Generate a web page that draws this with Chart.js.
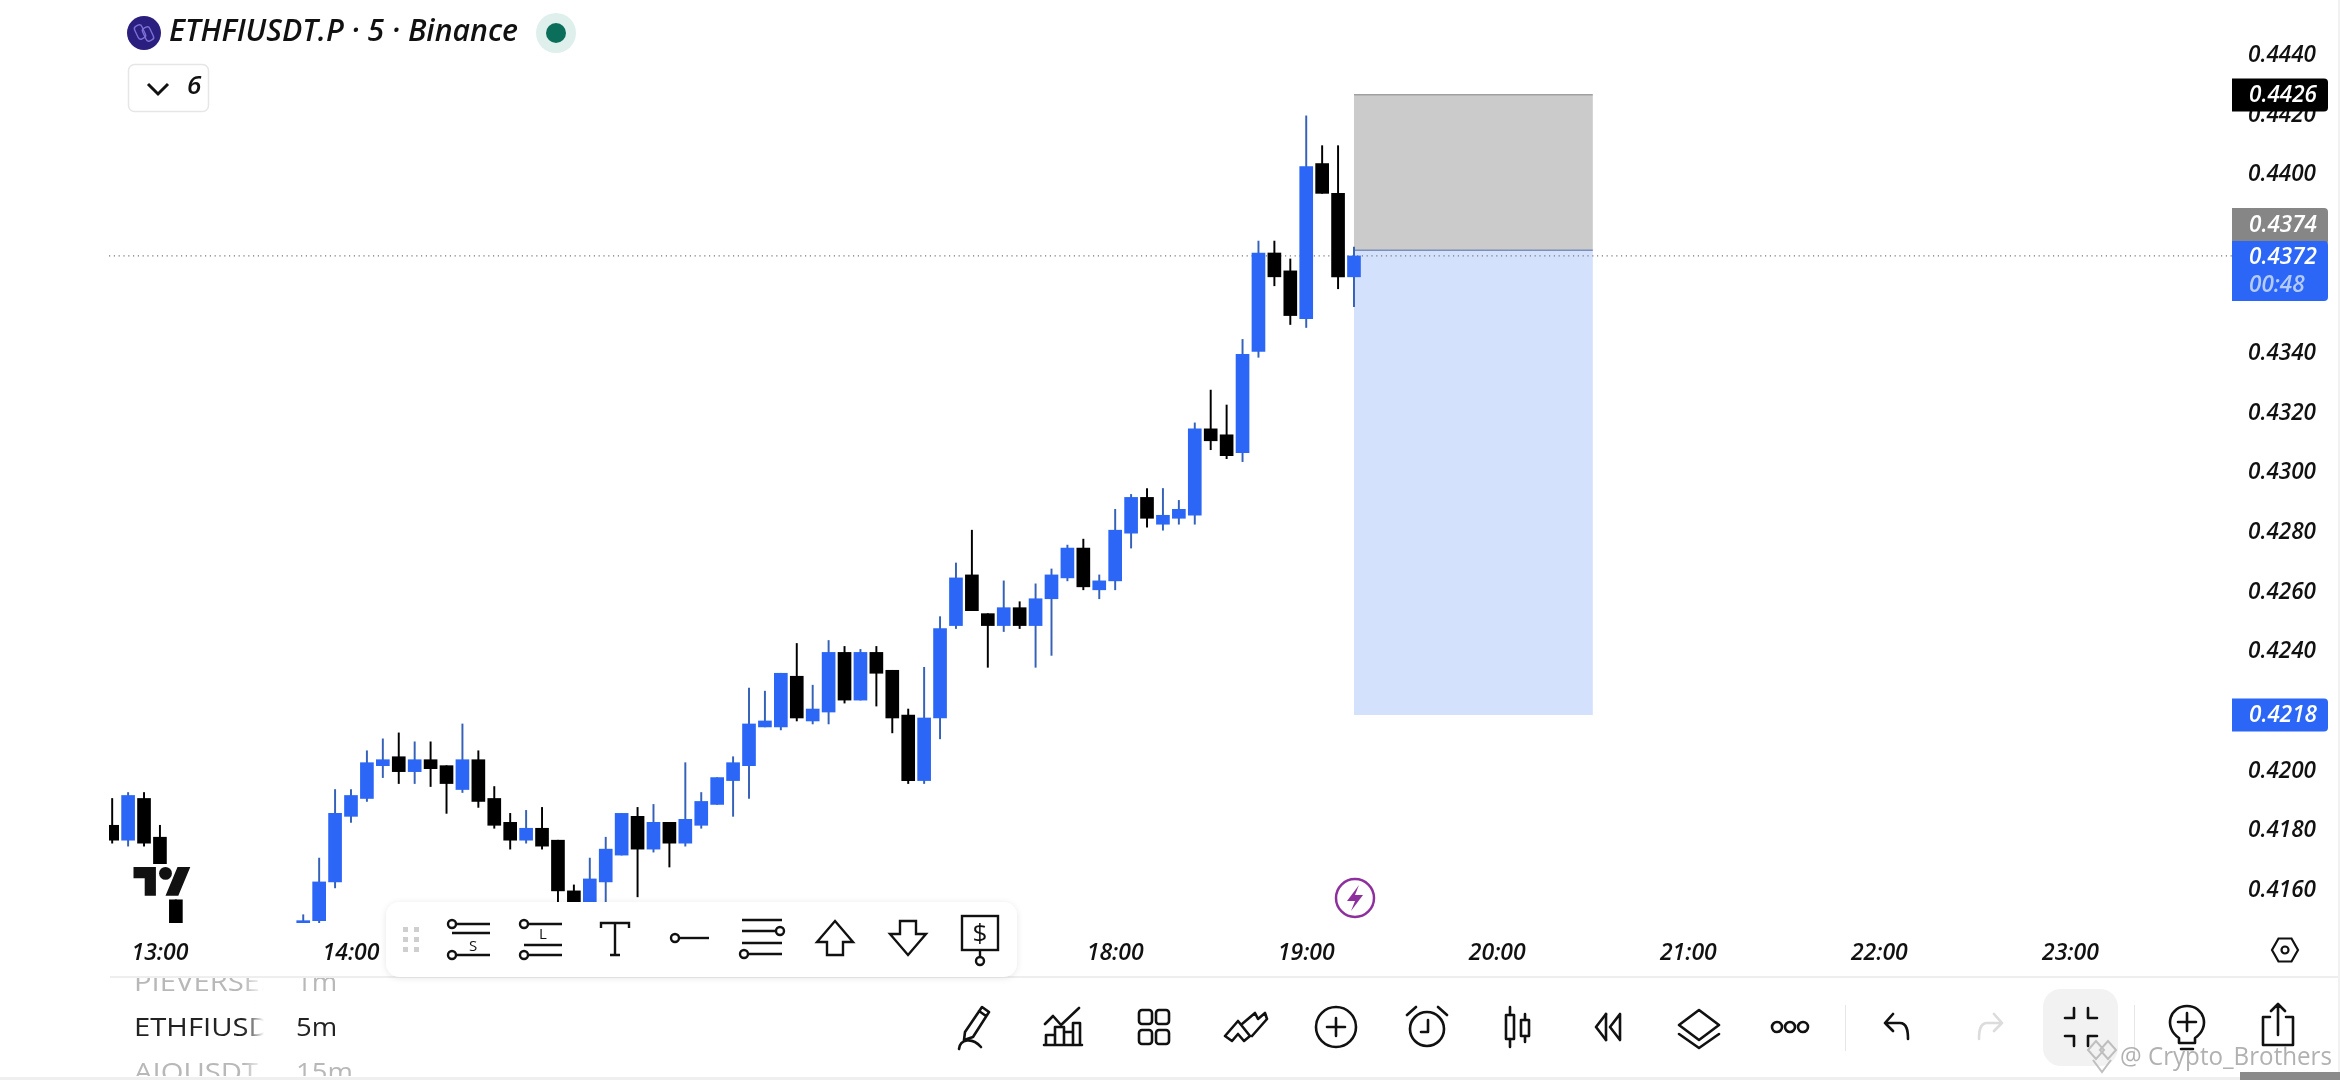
<!DOCTYPE html>
<html>
<head>
<meta charset="utf-8">
<style>
html,body{margin:0;padding:0;background:#fff;width:2340px;height:1080px;overflow:hidden}
#wrap{position:relative;width:2340px;height:1080px}
canvas{position:absolute;left:0;top:0}
svg{position:absolute;left:0;top:0}
svg text{font-family:"Open Sans",sans-serif}
</style>
<script src="https://cdn.jsdelivr.net/npm/chart.js@4"></script>
</head>
<body>
<div id="wrap">
<canvas id="c" width="2340" height="1080"></canvas>
<svg id="ui" width="2340" height="1080" viewBox="0 0 2340 1080" xmlns="http://www.w3.org/2000/svg">
<defs>
<linearGradient id="fadeR" x1="0" x2="1" y1="0" y2="0"><stop offset="0" stop-color="#fff" stop-opacity="0"/><stop offset="1" stop-color="#fff"/></linearGradient>
<filter id="sh" x="-5%" y="-20%" width="110%" height="140%"><feDropShadow dx="0" dy="1" stdDeviation="3" flood-color="#000" flood-opacity="0.10"/></filter>
<clipPath id="listClip"><rect x="110" y="978" width="300" height="98"/></clipPath>
<clipPath id="nameClip"><rect x="110" y="978" width="154" height="98"/></clipPath>
</defs>

<!-- header -->
<circle cx="144" cy="33" r="17" fill="#2a1f7e"/>
<g fill="none" stroke="#7d6fd6" stroke-width="1.4"><rect x="136" y="25" width="8" height="14" rx="3" transform="rotate(-25 140 32)"/><rect x="144" y="27" width="8" height="14" rx="3" transform="rotate(-25 148 34)"/></g>
<text x="169" y="41" font-size="30" font-style="italic" font-weight="600" fill="#111" textLength="349" lengthAdjust="spacingAndGlyphs">ETHFIUSDT.P · 5 · Binance</text>
<circle cx="556" cy="33" r="20" fill="#dff0ec"/>
<circle cx="556" cy="33" r="10" fill="#0b6e5b"/>
<rect x="128.5" y="64.5" width="80" height="47" rx="6" fill="#fff" stroke="#e6e6e6" stroke-width="1.5"/>
<path d="M148 84 L158 94 L168 84" fill="none" stroke="#111" stroke-width="3"/>
<text x="187" y="94" font-size="26" font-style="italic" font-weight="600" fill="#111">6</text>

<!-- TradingView mark -->
<rect x="128" y="864" width="68" height="34" fill="#fff"/>
<g transform="translate(133.5 860.6) scale(1.6)" fill="#111"><path d="M14 22H7V11H0V4h14v18zM28 22h-8l7.5-18h8L28 22z"/><circle cx="20" cy="8" r="4"/></g>

<!-- lightning marker -->
<circle cx="1355" cy="898" r="19" fill="#fff" stroke="#8e2f9e" stroke-width="2.5"/>
<path d="M1359 885 L1347 901 H1355 L1351 911 L1363 895 H1355 Z" fill="#8e2f9e"/>

<!-- hexagon axis settings -->
<g transform="translate(2285 950)" fill="none" stroke="#111" stroke-width="2.2"><path d="M-13 0 L-6.5 -11.5 H6.5 L13 0 L6.5 11.5 H-6.5 Z"/><circle r="3.5"/></g>

<!-- separators -->
<rect x="110" y="976" width="2230" height="2" fill="#eeeeee"/>
<rect x="0" y="1077" width="2340" height="3" fill="#efefef"/>
<rect x="2338" y="0" width="2" height="1080" fill="#f1f1f1"/>

<!-- floating toolbar -->
<rect x="386" y="902" width="631" height="75" rx="14" fill="#fff" filter="url(#sh)"/>
<g fill="#cfcfcf">
<rect x="403" y="927" width="5" height="5"/><rect x="414" y="927" width="5" height="5"/>
<rect x="403" y="937" width="5" height="5"/><rect x="414" y="937" width="5" height="5"/>
<rect x="403" y="947" width="5" height="5"/><rect x="414" y="947" width="5" height="5"/>
</g>
<g fill="none" stroke="#111" stroke-width="2.4">
<g transform="translate(470 938)"><circle cx="-18" cy="-14" r="4"/><path d="M-14 -14H20M-18 -5H20M-14 17H20"/><circle cx="-18" cy="17" r="4"/></g>
<g transform="translate(542 938)"><circle cx="-18" cy="-14" r="4"/><path d="M-14 -14H20M-18 7H20M-14 17H20"/><circle cx="-18" cy="17" r="4"/></g>
<g transform="translate(615 938)"><path d="M-14 -10V-15H14V-10M0 -15V17M-5 17H5"/></g>
<g transform="translate(689 938)"><circle cx="-14" cy="0" r="4"/><path d="M-10 0H20"/></g>
<g transform="translate(762 938)"><path d="M-20 -18H20M-20 -7H14M-20 5H20M-14 16H20"/><circle cx="18" cy="-7" r="4"/><circle cx="-18" cy="16" r="4"/></g>
<g transform="translate(835 938)"><path d="M0 -17L18 4H8V17H-8V4H-18Z"/></g>
<g transform="translate(908 938)"><path d="M0 17L18 -4H8V-17H-8V-4H-18Z"/></g>
<g transform="translate(980 938)"><rect x="-18" y="-22" width="36" height="34"/><path d="M0 12V19"/><circle cx="0" cy="23" r="4"/></g>
</g>
<text x="473" y="951" font-size="15" text-anchor="middle" fill="#111">S</text>
<text x="543" y="939" font-size="15" text-anchor="middle" fill="#111">L</text>
<text x="980" y="3" font-size="26" text-anchor="middle" fill="#111" transform="translate(0 939)">$</text>

<!-- symbol list -->
<g font-size="25">
<g clip-path="url(#nameClip)">
<text transform="translate(134 991) scale(1.17 1)" fill="#b8b8b8">PIEVERSE.P</text>
<text transform="translate(134 1036) scale(1.17 1)" fill="#222">ETHFIUSDT.P</text>
<text transform="translate(134 1081) scale(1.17 1)" fill="#b8b8b8">AIOUSDT.P</text>
</g>
<rect x="244" y="978" width="20" height="98" fill="url(#fadeR)"/>
<g clip-path="url(#listClip)">
<text transform="translate(296 991) scale(1.1 1)" fill="#b8b8b8">1m</text>
<text transform="translate(296 1036) scale(1.1 1)" fill="#222">5m</text>
<text transform="translate(296 1081) scale(1.1 1)" fill="#b8b8b8">15m</text>
</g>
</g>

<!-- bottom icons -->
<rect x="2043" y="989" width="75" height="77" rx="18" fill="#f2f2f2"/>
<rect x="1845" y="1005" width="1" height="46" fill="#e6e6e6"/>
<rect x="2134" y="1005" width="1" height="46" fill="#e6e6e6"/>
<g fill="none" stroke="#111" stroke-width="2.6" stroke-linejoin="round" stroke-linecap="round">
<g transform="translate(974 1027)"><path d="M-9 5 L8 -20 L15 -15 L-1 10 L-10 13 Z M5 -16 L12 -11"/><path d="M-15 22 C-14 12 -2 10 7 20"/></g>
<g transform="translate(1063 1027)"><path d="M-18 -3 L-10 -11 L-2 -2 L16 -19"/><path d="M-17 18V8H-8V18M-8 18V0H1V18M1 18V5H10V18M10 18V-4H17V18M-19 18H19"/></g>
<g transform="translate(1154 1027)"><rect x="-15" y="-17" width="13" height="14" rx="3"/><rect x="2" y="-17" width="13" height="14" rx="3"/><rect x="-15" y="3" width="13" height="14" rx="3"/><rect x="2" y="3" width="13" height="14" rx="3"/></g>
<g transform="translate(1245 1027)"><path d="M-20 9 L-7 -6 L5 9 L-1 14 L-7 7 L-13 14 Z M-3 -3 L10 -14 L13 -8 L20 -14 L22 -8 L7 9"/></g>
<g transform="translate(1336 1027)"><circle r="20"/><path d="M-9 0H9M0 -9V9"/></g>
<g transform="translate(1427 1027)"><circle cy="2" r="17"/><path d="M1 -7V5H-6M-20 -12L-11 -20M20 -12L11 -20"/></g>
<g transform="translate(1517 1027)"><rect x="-11" y="-12" width="8" height="24"/><path d="M-7 -20V-12M-7 12V20"/><rect x="4" y="-7" width="8" height="16"/><path d="M8 -13V-7M8 9V15"/></g>
<g transform="translate(1608 1027)"><path d="M-2 -13 L-12 0 L-2 13 M12 -13 L2 0 L12 13 V-13"/><path d="M-2 -13 V13"/></g>
<g transform="translate(1699 1027)"><path d="M0 -17 L20 -2 L0 13 L-20 -2 Z M-20 7 L0 21 L20 7"/></g>
<g transform="translate(1790 1027)"><circle cx="-13" r="5"/><circle cx="0" r="5"/><circle cx="13" r="5"/></g>
<g transform="translate(1897 1027)"><path d="M-4 -13 L-12 -4 L-4 4 M-12 -4 H3 C10 -4 11 4 11 12"/></g>
<g transform="translate(1990 1027)" stroke="#dcdcdc"><path d="M4 -13 L12 -4 L4 4 M12 -4 H-3 C-10 -4 -11 4 -11 12"/></g>
<g transform="translate(2081 1027)"><path d="M-7 -19 V-9 H-16 M7 -19 V-9 H16 M-7 19 V9 H-16 M7 19 V9 H16"/></g>
<g transform="translate(2187 1027)"><path d="M-8 11 C-24 0 -17 -21 0 -21 C17 -21 24 0 8 11 V16 H-8 Z M-6 22 H6 M-9 -5 H9 M0 -14 V4"/></g>
<g transform="translate(2278 1027)"><path d="M-8 -10 H-15 V18 H15 V-10 H8 M0 8 V-23 M-7 -16 L0 -23 L7 -16"/></g>
</g>

<!-- watermark -->
<g fill="none" stroke="#b5b5b5" stroke-width="2" opacity="0.85"><path d="M2100 1050 L2108 1041 L2116 1050 L2108 1059 Z M2088 1050 L2096 1041 L2104 1050 L2096 1059 Z M2093 1060 L2102 1072 L2111 1060"/></g>
<text x="2120" y="1065" font-size="26" fill="#a9a9a9" opacity="0.9" textLength="212" lengthAdjust="spacingAndGlyphs">@ Crypto_Brothers</text>
<rect x="2240" y="1072" width="100" height="8" fill="#8a8a8a"/>
</svg>
</div>
<script>
// ---- data ----
const times = ['12:45','12:50','12:55','13:00','13:05','13:45','13:50','13:55','14:00','14:05','14:10','14:15','14:20','14:25','14:30','14:35','14:40','14:45','14:50','14:55','15:00','15:05','15:10','15:15','15:20','15:25','15:30','15:35','15:40','15:45','15:50','15:55','16:00','16:05','16:10','16:15','16:20','16:25','16:30','16:35','16:40','16:45','16:50','16:55','17:00','17:05','17:10','17:15','17:20','17:25','17:30','17:35','17:40','17:45','17:50','17:55','18:00','18:05','18:10','18:15','18:20','18:25','18:30','18:35','18:40','18:45','18:50','18:55','19:00','19:05','19:10','19:15'];
const opens = [.4181,.4176,.4190,.4177,.4156,.4148,.4149,.4162,.4184,.4190,.4201,.4204,.4199,.4203,.4201,.4193,.4203,.4190,.4182,.4176,.4180,.4176,.4159,.4154,.4162,.4171,.4184,.4173,.4182,.4175,.4181,.4188,.4196,.4201,.4214,.4214,.4231,.4216,.4219,.4239,.4223,.4239,.4233,.4218,.4196,.4217,.4248,.4265,.4252,.4248,.4254,.4248,.4257,.4264,.4274,.4260,.4263,.4279,.4291,.4282,.4284,.4285,.4314,.4312,.4306,.4340,.4373,.4367,.4351,.4403,.4393,.4365];
const highs = [.4190,.4192,.4192,.4181,.4156,.4151,.4170,.4193,.4193,.4206,.4210,.4212,.4209,.4209,.4201,.4215,.4206,.4194,.4185,.4186,.4187,.4176,.4161,.4170,.4177,.4185,.4187,.4188,.4182,.4202,.4192,.4197,.4204,.4227,.4226,.4232,.4242,.4228,.4243,.4241,.4240,.4241,.4233,.4220,.4234,.4251,.4269,.4280,.4252,.4263,.4256,.4262,.4267,.4275,.4277,.4265,.4287,.4292,.4294,.4294,.4290,.4316,.4327,.4322,.4344,.4377,.4377,.4371,.4419,.4409,.4409,.4375];
const lows = [.4175,.4174,.4174,.4167,.4140,.4148,.4148,.4160,.4182,.4189,.4197,.4195,.4195,.4194,.4185,.4192,.4187,.4180,.4173,.4175,.4173,.4150,.4154,.4153,.4152,.4171,.4157,.4172,.4167,.4174,.4180,.4188,.4184,.4190,.4214,.4213,.4216,.4215,.4215,.4222,.4223,.4221,.4212,.4195,.4195,.4210,.4247,.4253,.4234,.4246,.4247,.4234,.4238,.4263,.4260,.4257,.4260,.4274,.4281,.4280,.4282,.4282,.4307,.4304,.4303,.4338,.4362,.4349,.4348,.4393,.4361,.4355];
const closes = [.4176,.4191,.4175,.4168,.4140,.4149,.4162,.4185,.4191,.4202,.4203,.4199,.4203,.4200,.4195,.4203,.4189,.4181,.4176,.4180,.4174,.4159,.4155,.4163,.4173,.4185,.4173,.4182,.4175,.4183,.4189,.4197,.4202,.4215,.4216,.4232,.4217,.4220,.4239,.4223,.4239,.4232,.4217,.4196,.4217,.4247,.4264,.4253,.4248,.4254,.4248,.4257,.4265,.4274,.4261,.4263,.4280,.4291,.4284,.4285,.4287,.4314,.4310,.4305,.4339,.4373,.4365,.4352,.4402,.4393,.4365,.4372];
const priceTicks = [.4160,.4180,.4200,.4220,.4240,.4260,.4280,.4300,.4320,.4340,.4360,.4380,.4400,.4420,.4440];
const timeTicks = ['13:00','14:00','15:00','16:00','17:00','18:00','19:00','20:00','21:00','22:00','23:00'];
const lastPrice = 0.4372, lastCountdown = '00:48';
const stopPrice = 0.4426, entryPrice = 0.4374, targetPrice = 0.4218;
const boxFrom = '19:15', boxTo = '20:30';
const viewFrom = 764, viewTo = 1430.75, priceMin = 0.414822, priceMax = 0.445787;

// ---- colours ----
const UP = '#2b66f6', DOWN = '#000000', UP_WICK = '#3661b8', DOWN_WICK = '#000000';
const FONT = 'italic 600 22.5px "Open Sans"';
const mins = s => { const [h, m] = s.split(':').map(Number); return h * 60 + m; };
const isUp = i => closes[i] >= opens[i];

const wicks = times.map((t, i) => ({ x: mins(t), y: [lows[i], highs[i]] }));
const bodies = times.map((t, i) => ({ x: mins(t), y: [opens[i], closes[i]] }));

function roundRect(ctx, x, y, w, h, r, fill) {
  ctx.beginPath(); ctx.roundRect(x, y, w, h, r); ctx.fillStyle = fill; ctx.fill();
}

const riskBoxes = {
  id: 'riskBoxes',
  beforeDatasetsDraw(chart) {
    const { ctx, scales: { x, y } } = chart;
    const l = x.getPixelForValue(mins(boxFrom)), r = x.getPixelForValue(mins(boxTo));
    const t = y.getPixelForValue(stopPrice), m = y.getPixelForValue(entryPrice), b = y.getPixelForValue(targetPrice);
    ctx.save();
    ctx.fillStyle = '#cbcbcb'; ctx.fillRect(l, t, r - l, m - t);
    ctx.fillStyle = '#d3e1fc'; ctx.fillRect(l, m, r - l, b - m);
    ctx.fillStyle = '#a0a0a0'; ctx.fillRect(l, t - 1, r - l, 1.5);
    ctx.fillStyle = '#7d8fb8'; ctx.fillRect(l, m - 0.5, r - l, 1.5);
    ctx.restore();
  }
};

const priceTags = {
  id: 'priceTags',
  afterDraw(chart) {
    const { ctx, scales: { y } } = chart;
    const X = 2232, W = 96, H = 33, TX = 2249;
    const py = v => y.getPixelForValue(v);
    const lastTop = py(lastPrice) - 15;
    const R = [0, 4, 4, 0];
    ctx.save();
    ctx.textBaseline = 'middle'; ctx.textAlign = 'left'; ctx.font = FONT;
    // stop
    roundRect(ctx, X, py(stopPrice) - H / 2, W, H, R, '#000');
    ctx.fillStyle = '#fff'; ctx.fillText(stopPrice.toFixed(4), TX, py(stopPrice) + 1);
    // entry, pushed up against the last price tag
    roundRect(ctx, X, lastTop - H, W, H + 4, R, '#868686');
    ctx.fillStyle = '#fff'; ctx.fillText(entryPrice.toFixed(4), TX, lastTop - H / 2 + 1);
    // last price with countdown
    roundRect(ctx, X, lastTop, W, 60, R, UP);
    ctx.fillStyle = '#fff'; ctx.fillText(lastPrice.toFixed(4), TX, lastTop + 17);
    ctx.fillStyle = '#b4cbf8'; ctx.fillText(lastCountdown, TX, lastTop + 45);
    // target
    roundRect(ctx, X, py(targetPrice) - H / 2, W, H, R, UP);
    ctx.fillStyle = '#fff'; ctx.fillText(targetPrice.toFixed(4), TX, py(targetPrice) + 1);
    ctx.restore();
  }
};

const noPad = s => { s.paddingLeft = 0; s.paddingRight = 0; s.paddingTop = 0; s.paddingBottom = 0; };

new Chart(document.getElementById('c'), {
  type: 'bar',
  data: {
    datasets: [
      { type: 'line', label: 'last', data: [{ x: viewFrom, y: lastPrice }, { x: viewTo, y: lastPrice }],
        borderColor: '#7a7a7a', borderWidth: 1.2, borderDash: [1.2, 3.6], pointRadius: 0, order: 3 },
      { label: 'wick', data: wicks, grouped: false, barThickness: 1.3,
        backgroundColor: times.map((_, i) => isUp(i) ? UP_WICK : DOWN_WICK), borderWidth: 0, order: 2 },
      { label: 'body', data: bodies, grouped: false, barThickness: 13,
        backgroundColor: times.map((_, i) => isUp(i) ? UP : DOWN), borderWidth: 0, order: 1 }
    ]
  },
  options: {
    responsive: false, animation: false, devicePixelRatio: 1,
    layout: { padding: { left: 109, right: 0, top: 0, bottom: 0 } },
    plugins: { legend: { display: false }, title: { display: false }, tooltip: { enabled: false } },
    parsing: { xAxisKey: 'x', yAxisKey: 'y' },
    scales: {
      x: {
        type: 'linear', offset: false, min: viewFrom, max: viewTo,
        grid: { display: false }, border: { display: false },
        afterBuildTicks(s) { s.ticks = timeTicks.map(t => ({ value: mins(t), label: t })); },
        afterFit(s) { s.height = 157; noPad(s); },
        ticks: {
          autoSkip: false, maxRotation: 0, minRotation: 0, padding: 9, color: '#111',
          font: { family: '"Open Sans"', size: 23, style: 'italic', weight: '600' },
          callback: (v) => timeTicks.find(t => mins(t) === v) || ''
        }
      },
      y: {
        type: 'linear', position: 'right', min: priceMin, max: priceMax,
        grid: { display: false }, border: { display: false },
        afterBuildTicks(s) { s.ticks = priceTicks.map(v => ({ value: v })); },
        afterFit(s) { s.width = 108; noPad(s); },
        ticks: {
          autoSkip: false, padding: 8, labelOffset: 2.5, color: '#111',
          font: { family: '"Open Sans"', size: 22.5, style: 'italic', weight: '600' },
          callback: (v) => Number(v).toFixed(4)
        }
      }
    }
  },
  plugins: [riskBoxes, priceTags]
});
</script>
</body>
</html>
